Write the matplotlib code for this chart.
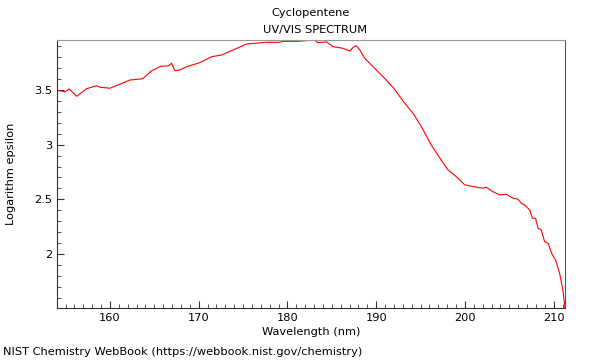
import matplotlib
matplotlib.use("Agg")
import matplotlib.pyplot as plt
from matplotlib.ticker import MultipleLocator

title = "Cyclopentene"
subtitle = "UV/VIS SPECTRUM"
xlabel = "Wavelength (nm)"
ylabel = "Logarithm epsilon"
footer = "NIST Chemistry WebBook (https://webbook.nist.gov/chemistry)"

wavelength = [154.03, 154.93, 155.42, 156.25, 157.37, 158.5, 158.87, 160.0, 162.25, 163.71,
              164.69, 165.82, 166.56, 166.94, 167.32, 167.88, 168.64, 170.13, 171.45, 172.58,
              173.88, 175.39, 177.64, 179.14, 179.51, 181.2, 182.52, 183.08, 183.46, 184.4,
              185.15, 186.27, 187.03, 187.4, 187.78, 188.15, 188.71, 189.65, 190.77, 191.9,
              193.22, 194.15, 195.1, 196.2, 197.7, 198.1, 199.04, 199.98, 201.29, 202.04,
              202.4, 203.16, 203.92, 204.67, 205.42, 205.98, 206.36, 206.73, 207.3, 207.6,
              207.97, 208.23, 208.61, 208.98, 209.36, 209.85, 210.22, 210.67, 211.04, 211.28]
log_eps = [3.497, 3.484, 3.509, 3.442, 3.512, 3.539, 3.525, 3.516, 3.591, 3.603,
           3.676, 3.719, 3.719, 3.744, 3.676, 3.683, 3.713, 3.750, 3.804, 3.820,
           3.866, 3.920, 3.936, 3.936, 3.945, 3.945, 3.954, 3.954, 3.932, 3.939,
           3.896, 3.881, 3.856, 3.890, 3.905, 3.866, 3.790, 3.713, 3.622, 3.525,
           3.378, 3.287, 3.164, 2.997, 2.814, 2.769, 2.707, 2.632, 2.611, 2.601,
           2.611, 2.570, 2.540, 2.547, 2.510, 2.501, 2.464, 2.449, 2.403, 2.327,
           2.327, 2.236, 2.220, 2.113, 2.099, 1.992, 1.946, 1.824, 1.671, 1.506]
xticks = [160, 170, 180, 190, 200, 210]
yticks = [2, 2.5, 3, 3.5]
ytick_labels = ["2", "2.5", "3", "3.5"]

fs = 8.2
fig = plt.figure(figsize=(6, 3.6), dpi=100)
ax = fig.add_axes([57/600, 1-308/360, (565-57)/600, (308-40)/360])
ax.plot(wavelength, log_eps, color="#ff0000", lw=0.8)
ax.set_xlim(min(wavelength), max(wavelength))
ax.set_ylim(min(log_eps), 3.957)
ax.set_xticks(xticks)
ax.set_yticks(yticks)
ax.set_yticklabels(ytick_labels)
ax.xaxis.set_minor_locator(MultipleLocator(1))
ax.yaxis.set_minor_locator(MultipleLocator(0.1))
ax.tick_params(which="both", direction="in", top=False, right=False, labelsize=fs,
               colors="#333333", labelcolor="black")
ax.tick_params(which="major", length=5)
ax.tick_params(which="minor", length=3)
for s in ["left", "bottom"]:
    ax.spines[s].set_color("#333333")
ax.spines["top"].set_color("#999999")
ax.spines["right"].set_color("#555555")
ax.set_xlabel(xlabel, fontsize=fs, labelpad=3)
ax.set_ylabel(ylabel, fontsize=fs, labelpad=13)
fig.text(311/600, 1-12.5/360, title, ha="center", va="center", fontsize=fs)
fig.text(315/600, 1-30/360, subtitle, ha="center", va="center", fontsize=fs)
fig.text(3/600, 1-352/360, footer, ha="left", va="center", fontsize=fs)
fig.savefig("out.png", dpi=100)
